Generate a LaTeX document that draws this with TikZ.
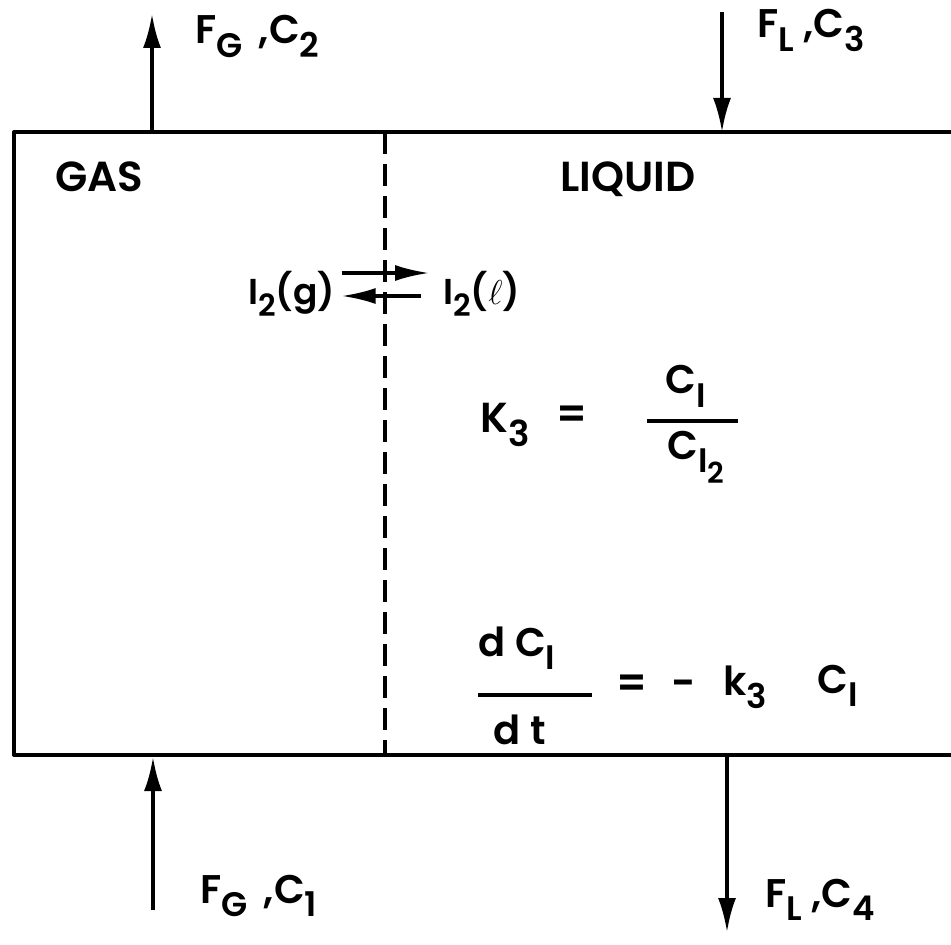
\documentclass[tikz,border=0pt]{standalone}
\usepackage{fontspec}
\setmainfont{Poppins}[UprightFont=* SemiBold]
\usepackage{graphicx}
\usetikzlibrary{arrows.meta}

\newcommand{\sub}[1]{\raisebox{-0.6ex}{\scalebox{0.85}{#1}}}

\tikzset{
  wall/.style={line width=2pt, line join=round},
  divider/.style={line width=2.2pt, dash pattern=on 11pt off 5pt},
  flow/.style={line width=1.8pt, -{Latex[length=17pt,width=9pt]}},
  eqarrow/.style={line width=1.6pt, -{Latex[length=17pt,width=8pt]}},
  fracbar/.style={line width=1.9pt},
  lbl/.style={anchor=base west, inner sep=0pt, font=\fontsize{20}{24}\selectfont},
  txt/.style={anchor=base west, inner sep=0pt, font=\fontsize{21}{25}\selectfont},
  eqtxt/.style={anchor=base, inner sep=0pt, font=\fontsize{20}{24}\selectfont},
}

\begin{document}
\begin{tikzpicture}[x=0.5pt, y=-0.5pt]
    \useasboundingbox (0,0) rectangle (951,945);

    % vessel
    \draw[wall] (951,132) -- (14,132) -- (14,755) -- (951,755);
    \draw[divider] (385,132) -- (385,755);

    % streams
    \coordinate (gasOut) at (152,132);
    \coordinate (gasOutEnd) at (152,14);
    \coordinate (liqIn) at (722,12);
    \coordinate (liqInEnd) at (722,132);
    \coordinate (gasIn) at (153,910);
    \coordinate (gasInEnd) at (153,757);
    \coordinate (liqOut) at (727,757);
    \coordinate (liqOutEnd) at (727,932);
    \draw[flow] (gasOut) -- (gasOutEnd);
    \draw[flow] (liqIn) -- (liqInEnd);
    \draw[flow] (gasIn) -- (gasInEnd);
    \draw[flow] (liqOut) -- (liqOutEnd);

    \node[lbl] (fgtop) at (195,44) {F\sub{G}\ \,,C\sub{2}};
    \node[lbl] (fltop) at (757,38) {F\sub{L}\ ,C\sub{3}};
    \node[lbl] (fgbot) at (200,903) {F\sub{G}\ \,,C\sub{1}};
    \node[lbl] (flbot) at (765,907) {F\sub{L}\ ,C\sub{4}};

    % phases
    \node[txt] (gas) at (55,192) {GAS};
    \node[txt] (liquid) at (560,192) {LIQUID};

    % interface equilibrium
    \node[txt, font=\fontsize{18}{21}\selectfont] (ig) at (248,305) {I\sub{2}(g)};
    \node[txt, font=\fontsize{18}{21}\selectfont] (il) at (443,305) {I\sub{2}($\ell$)};
    \draw[eqarrow] ([xshift=3pt,yshift=16pt]ig.base east) -- ([xshift=-7pt,yshift=16pt]il.base west);
    \draw[eqarrow] ([xshift=-11pt,yshift=4.5pt]il.base west) -- ([xshift=3pt,yshift=4.5pt]ig.base east);

    % partition
    \node[txt] (kthree) at (480,433) {K\sub{3}};
    \node[txt, anchor=base] (keq) at (572,429) {=};
    \draw[fracbar] (647,421) -- (738,421);
    \node[eqtxt] (knum) at (686,394) {C\sub{I}};
    \node[eqtxt] (kden) at (696,459) {C\sub{I\sub{2}}};

    % rate
    \draw[fracbar] (478,695) -- (592,695);
    \node[eqtxt] (rnum) at (517,656) {d C\sub{I}};
    \node[eqtxt] (rden) at (520,744) {d t};
    \node[txt, anchor=base] (req) at (632,697) {=};
    \node[txt, anchor=base] (rminus) at (684,697) {-};
    \node[eqtxt, anchor=base west] (rk) at (723,695) {k\sub{3}};
    \node[eqtxt, anchor=base west] (rc) at (817,693) {C\sub{I}};
\end{tikzpicture}
\end{document}
